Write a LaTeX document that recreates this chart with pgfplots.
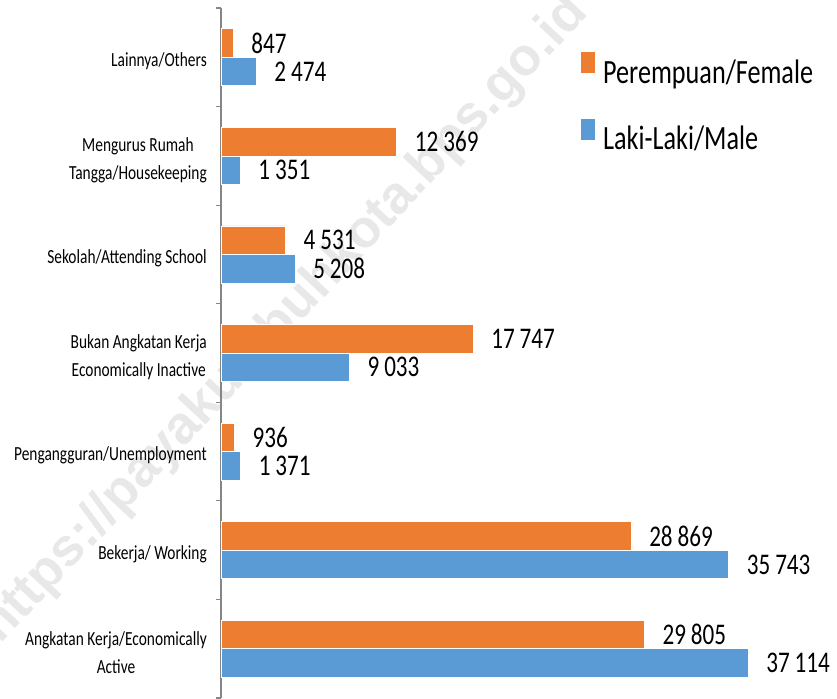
\documentclass[border=0pt]{standalone}
\usepackage{fontspec}
\setmainfont{Carlito}[FakeStretch=0.77]
\newfontfamily\wmfont{Liberation Sans}
\usepackage{pgfplots}
\pgfplotsset{compat=1.18}
\definecolor{femaleC}{HTML}{ED7D31}
\definecolor{maleC}{HTML}{5B9BD5}
\definecolor{axisC}{HTML}{868686}

\pgfplotsset{
  sqlegend/.style={legend image code/.code={\fill[##1,draw=none] (0pt,-1pt) rectangle (14pt,20pt);}},
}

\begin{document}
\begin{tikzpicture}[x=1pt,y=1pt]
\useasboundingbox (0,0) rectangle (837,698);
\clip (0,0) rectangle (837,698);
% watermark behind the chart
\node[rotate=47, text=black!9, font=\wmfont\fontsize{53}{53}\selectfont\bfseries]
  at (285,378) {https://payakumbuhkota.bps.go.id};
\begin{axis}[
  at={(221pt,0pt)}, anchor=south west,
  scale only axis, width=616pt, height=690pt,
  xbar, bar width=28.5pt,
  xmin=0, xmax=43380, ymin=-0.5, ymax=6.5,
  axis x line=none, axis y line*=left,
  axis line style={draw=axisC, line width=1.2pt},
  ytick={0,...,6},
  yticklabels={
    {Angkatan Kerja/Economically\\Active},
    {Bekerja/ Working},
    {Pengangguran/Unemployment},
    {Bukan Angkatan Kerja\\Economically Inactive},
    {Sekolah/Attending School},
    {Mengurus Rumah\\Tangga/Housekeeping},
    {Lainnya/Others}},
  yticklabel style={align=center, font=\fontsize{20}{28}\selectfont, inner sep=0pt, xshift=-14pt, yshift=-4pt},
  minor ytick={-0.5,0.5,...,6.5},
  tick align=outside, major tick length=0pt, minor tick length=5pt,
  minor tick style={draw=axisC, line width=1.2pt},
  clip=false,
  point meta=x,
  nodes near coords,
  /pgf/number format/1000 sep={\,},
  /pgf/number format/assume math mode=true,
  every node near coord/.append style={font=\fontsize{30}{30}\selectfont, anchor=west, inner sep=0pt, xshift=18pt, text=black},
  legend style={draw=none, fill=none, at={(rel axis cs:0.5844,0.936)}, anchor=north west,
    font=\fontsize{34}{40}\selectfont, row sep=34pt, column sep=8pt, inner sep=0pt,
    nodes={inner sep=0pt}},
  legend cell align=left,
]
% Perempuan/Female
\addplot[fill=femaleC, draw=white, line width=0.6pt, bar shift=14.25pt, sqlegend] coordinates {
  (29805,0) (28869,1) (936,2) (17747,3) (4531,4) (12369,5) (847,6)
};
% Laki-Laki/Male
\addplot[fill=maleC, draw=white, line width=0.6pt, bar shift=-14.25pt, sqlegend] coordinates {
  (37114,0) (35743,1) (1371,2) (9033,3) (5208,4) (1351,5) (2474,6)
};
\legend{Perempuan/Female, Laki-Laki/Male}
\end{axis}
\end{tikzpicture}
\end{document}
